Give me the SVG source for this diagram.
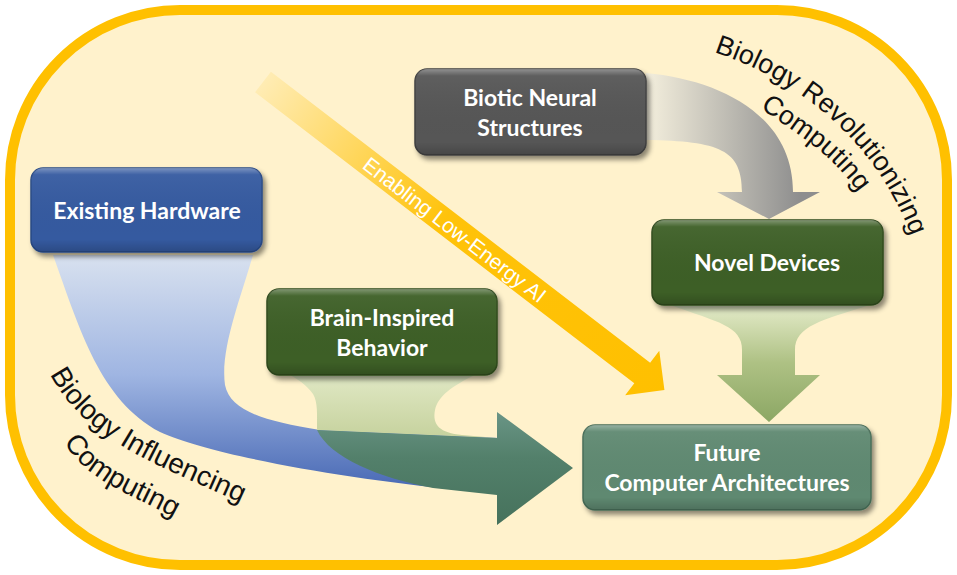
<svg xmlns="http://www.w3.org/2000/svg" width="957" height="575" viewBox="0 0 957 575">
<defs>
<style>
.lbl{font-family:Lato,"Liberation Sans",Arial,sans-serif;font-weight:bold;font-size:23px;fill:#fff;text-anchor:middle}
.arc{font-family:"Liberation Sans",Arial,Helvetica,sans-serif;font-size:27px;fill:#111}
.arcL{font-size:28px}
.box{stroke-width:1.5}
</style>
<filter id="sh" x="-10%" y="-10%" width="125%" height="135%">
<feDropShadow dx="3" dy="4" stdDeviation="2.5" flood-color="#000" flood-opacity="0.45"/>
</filter>
<linearGradient id="bevel" x1="0" y1="0" x2="0" y2="1">
<stop offset="0" stop-color="#fff" stop-opacity="0.35"/>
<stop offset="0.08" stop-color="#fff" stop-opacity="0.05"/>
<stop offset="0.85" stop-color="#000" stop-opacity="0"/>
<stop offset="1" stop-color="#000" stop-opacity="0.18"/>
</linearGradient>
<linearGradient id="gYel" x1="0" y1="0" x2="1" y2="0">
<stop offset="0" stop-color="#FFC000" stop-opacity="0.12"/>
<stop offset="0.45" stop-color="#FFC000" stop-opacity="0.95"/>
<stop offset="1" stop-color="#FFC000"/>
</linearGradient>
<linearGradient id="gGray" gradientUnits="userSpaceOnUse" x1="646" y1="0" x2="800" y2="0">
<stop offset="0" stop-color="#F4EFDD"/>
<stop offset="1" stop-color="#8E8E8E"/>
</linearGradient>
<linearGradient id="gGreen" gradientUnits="userSpaceOnUse" x1="0" y1="305" x2="0" y2="420">
<stop offset="0" stop-color="#E4EBC9"/>
<stop offset="0.5" stop-color="#AEC184"/>
<stop offset="1" stop-color="#8DA865"/>
</linearGradient>
<linearGradient id="gBlue" gradientUnits="userSpaceOnUse" x1="0" y1="255" x2="0" y2="495">
<stop offset="0" stop-color="#D8E1EF"/>
<stop offset="0.5" stop-color="#9FB5E2"/>
<stop offset="1" stop-color="#4465B2"/>
</linearGradient>
<linearGradient id="gFun" gradientUnits="userSpaceOnUse" x1="0" y1="375" x2="0" y2="440">
<stop offset="0" stop-color="#E0E8C4"/>
<stop offset="1" stop-color="#C5D19C"/>
</linearGradient>
<linearGradient id="gTeal" gradientUnits="userSpaceOnUse" x1="0" y1="412" x2="0" y2="525">
<stop offset="0" stop-color="#6A9586"/>
<stop offset="0.4" stop-color="#53806B"/>
<stop offset="1" stop-color="#46725C"/>
</linearGradient>
<path id="p1" d="M50,374 C88,448 180,472 264,514"/>
<path id="p2" d="M64,442 C90,487 145,497 192,529"/>
<path id="p3" d="M714,52 C803,82 882,145 916,250"/>
<path id="p4" d="M760,108 C797,134 837,156 866,204"/>
</defs>

<rect id="frame" x="10" y="10" width="937" height="555" rx="170" ry="170" fill="#FFF2CC" stroke="#FFC000" stroke-width="10"/>

<g id="connectors">
<g id="yellow-arrow" transform="translate(263,82) rotate(37.5)">
<path d="M0,-13 L478,-13 L478,-28 L506,0 L478,28 L478,13 L0,13 Z" fill="url(#gYel)"/>
<text x="242" y="8" font-family="'Liberation Sans',Arial,sans-serif" font-size="21" fill="#fff" text-anchor="middle">Enabling Low-Energy AI</text>
</g>
<path id="blue-band" d="M53,255 C80,330 100,400 160,432 C210,455 340,478 460,490 L500,470 L500,438 L320,430 C262,421 230,410 225,385 C220,350 240,300 253,255 Z" fill="url(#gBlue)"/>
<path id="brain-funnel" d="M290,375 L475,375 C452,386 438,396 435,410 C432,425 440,433 462,435 L497,438 L317,430 C317,415 318,402 313,394 C306,384 297,379 290,375 Z" fill="url(#gFun)"/>
<path id="teal-arrow" d="M317,430 L497,438 L497,412 L573,468 L497,525 L497,495 L433,488 C380,478 330,458 317,430 Z" fill="url(#gTeal)"/>
<path id="gray-arrow" d="M646,73 C720,80 793,115 793,192 L820,192 L769,219 L717,192 L742,192 C742,150 720,141 646,140 Z" fill="url(#gGray)"/>
<path id="green-arrow" d="M670,305 C718,322 742,326 742,350 L742,375 L717,375 L769,422 L820,375 L795,375 L795,350 C795,326 822,320 870,305 Z" fill="url(#gGreen)"/>
</g>

<g id="n-existing">
<rect class="box" x="31" y="168" width="231" height="84" rx="12" fill="#355AA0" stroke="#294A85" filter="url(#sh)"/>
<rect x="31" y="168" width="231" height="84" rx="12" fill="url(#bevel)"/>
<text class="lbl" x="147" y="219">Existing Hardware</text>
</g>
<g id="n-biotic">
<rect class="box" x="415" y="69" width="231" height="86" rx="12" fill="#565656" stroke="#404040" filter="url(#sh)"/>
<rect x="415" y="69" width="231" height="86" rx="12" fill="url(#bevel)"/>
<text class="lbl" x="530" y="106">Biotic Neural</text>
<text class="lbl" x="530" y="136">Structures</text>
</g>
<g id="n-brain">
<rect class="box" x="267" y="289" width="230" height="86" rx="12" fill="#3E5E28" stroke="#2E491C" filter="url(#sh)"/>
<rect x="267" y="289" width="230" height="86" rx="12" fill="url(#bevel)"/>
<text class="lbl" x="382" y="326">Brain-Inspired</text>
<text class="lbl" x="382" y="356">Behavior</text>
</g>
<g id="n-novel">
<rect class="box" x="652" y="220" width="231" height="85" rx="12" fill="#3E5E28" stroke="#2E491C" filter="url(#sh)"/>
<rect x="652" y="220" width="231" height="85" rx="12" fill="url(#bevel)"/>
<text class="lbl" x="767" y="271">Novel Devices</text>
</g>
<g id="n-future">
<rect class="box" x="583" y="425" width="288" height="85" rx="12" fill="#5F8971" stroke="#476C57" filter="url(#sh)"/>
<rect x="583" y="425" width="288" height="85" rx="12" fill="url(#bevel)"/>
<text class="lbl" x="727" y="461">Future</text>
<text class="lbl" x="727" y="491">Computer Architectures</text>
</g>

<g id="labels">
<text class="arc arcL"><textPath href="#p1">Biology Influencing</textPath></text>
<text class="arc arcL"><textPath href="#p2">Computing</textPath></text>
<text class="arc"><textPath href="#p3">Biology Revolutionizing</textPath></text>
<text class="arc"><textPath href="#p4">Computing</textPath></text>
</g>
</svg>
